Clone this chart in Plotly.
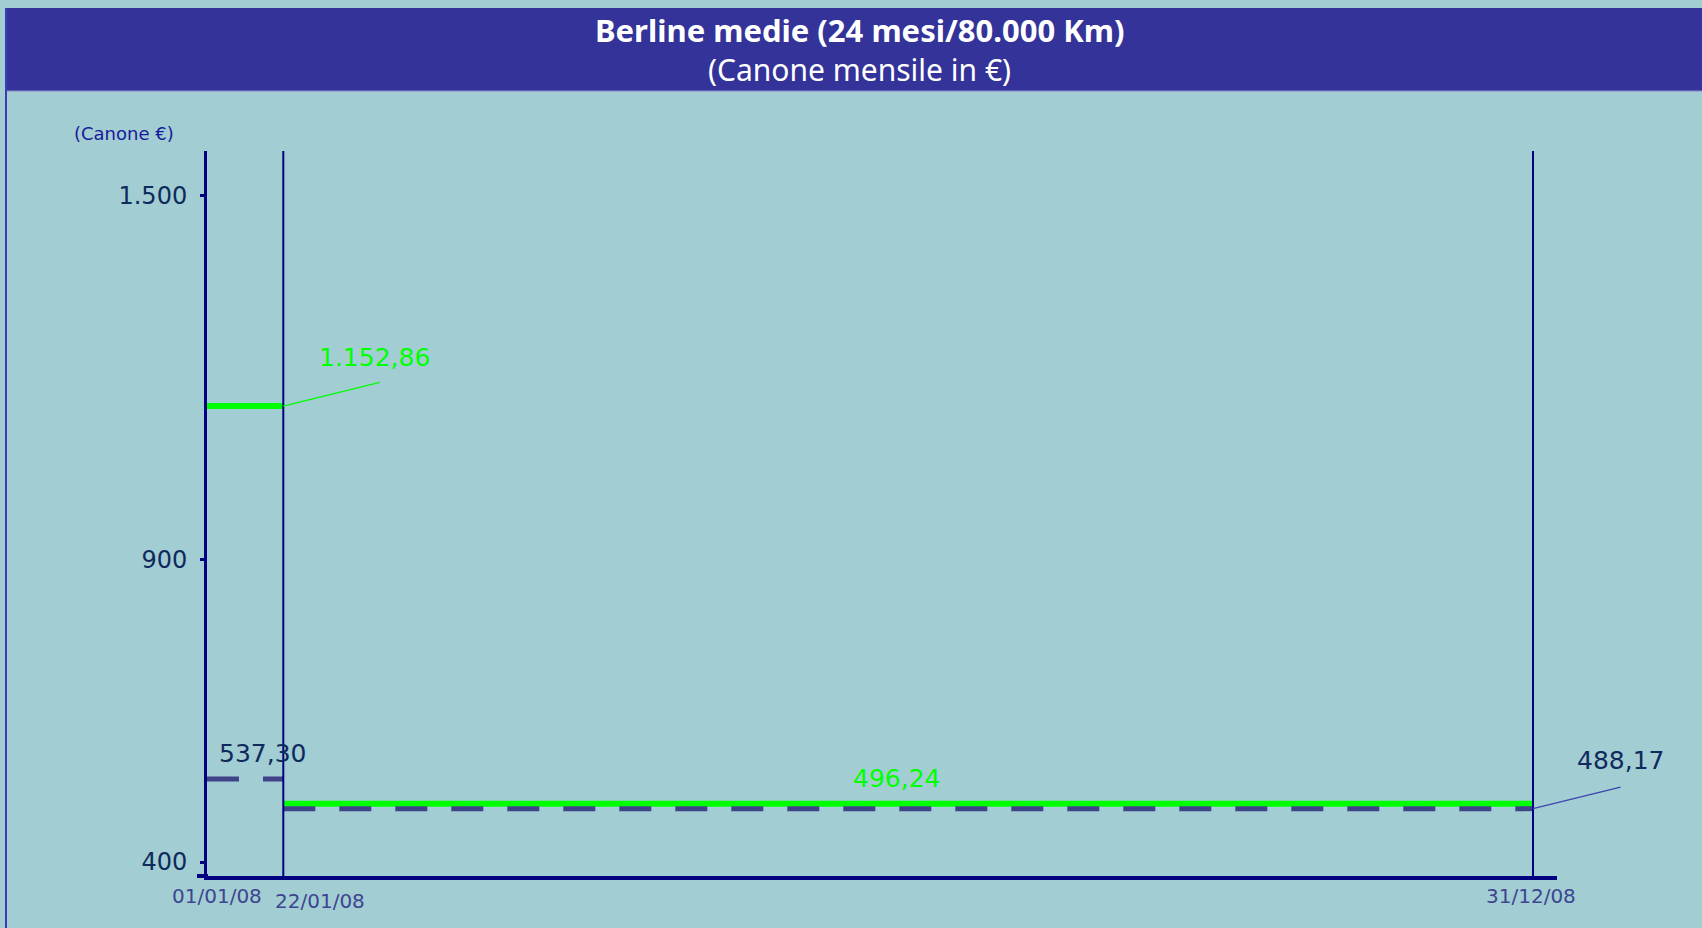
import plotly.graph_objects as go
import pandas as pd

# ---- data ----
period_dates = ["2008-01-01", "2008-01-22", "2008-12-31"]
date_labels = ["01/01/08", "22/01/08", "31/12/08"]
canone_nuovo = [1152.86, 496.24]      # green solid
canone_precedente = [537.30, 488.17]  # dashed
y_ticks = [400, 900, 1500]

W, H = 1702, 928
BG = "#A2CDD3"
NAVY = "#000080"
GREEN = "#00FF00"
DASH = "#414389"
LABEL = "#0F2A5C"
FONT = "Noto Sans"
FONT2 = "DejaVu Sans"


def it_fmt(v, dec=2):
    s = f"{v:,.{dec}f}"
    return s.replace(",", "X").replace(".", ",").replace("X", ".")


d = pd.to_datetime(period_dates)
span = d[-1] - d[0]
x_end = d[-1] + span * (24 / 1326)

fig = go.Figure()

for i in range(2):
    fig.add_trace(go.Scatter(
        x=[d[i], d[i + 1]], y=[canone_nuovo[i]] * 2, mode="lines",
        line=dict(color=GREEN, width=6), hoverinfo="skip", showlegend=False))
for i in range(2):
    fig.add_trace(go.Scatter(
        x=[d[i], d[i + 1]], y=[canone_precedente[i]] * 2, mode="lines",
        line=dict(color=DASH, width=5, dash="32px,24px"),
        hoverinfo="skip", showlegend=False))

y_axis_bottom = 1 - 876 / H
shapes = [
    dict(type="rect", xref="paper", yref="paper", x0=7 / W, x1=1,
         y0=1 - 91 / H, y1=1 - 8 / H, fillcolor="#333399", line=dict(width=0), layer="below"),
    dict(type="line", xref="paper", yref="paper", x0=7 / W, x1=1,
         y0=1 - 91 / H, y1=1 - 91 / H, line=dict(color="#8A8AD0", width=1)),
    dict(type="line", xref="paper", yref="paper", x0=6 / W, x1=6 / W,
         y0=0, y1=1 - 8 / H, line=dict(color="#3C3CB4", width=2)),
    dict(type="line", xref="paper", yref="paper", x0=197 / W, x1=208 / W,
         y0=y_axis_bottom, y1=y_axis_bottom, line=dict(color=NAVY, width=4)),
]
for dt in d[1:]:
    shapes.append(dict(type="line", xref="x", yref="y domain", x0=dt, x1=dt,
                       y0=0, y1=1, line=dict(color=NAVY, width=2)))

annotations = [
    dict(text="<b>Berline medie (24 mesi/80.000 Km)</b>", xref="paper", yref="paper",
         x=860 / W, y=1 - 30 / H, showarrow=False, xanchor="center", yanchor="middle",
         font=dict(family=FONT, size=31, color="white")),
    dict(text="(Canone mensile in €)", xref="paper", yref="paper",
         x=860 / W, y=1 - 69 / H, showarrow=False, xanchor="center", yanchor="middle",
         font=dict(family=FONT, size=30, color="white")),
    dict(text="(Canone €)", xref="paper", yref="paper",
         x=124 / W, y=1 - 134 / H, showarrow=False, xanchor="center", yanchor="middle",
         font=dict(family=FONT2, size=18, color="#1A1A9C")),
    dict(text=it_fmt(canone_nuovo[0]), x=d[1], y=canone_nuovo[0], xshift=91, yshift=49,
         showarrow=False, font=dict(family=FONT2, size=25, color=GREEN)),
    dict(text="", x=d[1], y=canone_nuovo[0], ax=98, ay=-24, showarrow=True,
         arrowhead=0, arrowwidth=1.3, arrowcolor=GREEN, standoff=0),
    dict(text=it_fmt(canone_precedente[0]), x=d[0], y=canone_precedente[0],
         xanchor="left", xshift=10, yshift=25, showarrow=False,
         font=dict(family=FONT2, size=25, color=LABEL)),
    dict(text=it_fmt(canone_nuovo[1]), x=d[1] + (d[2] - d[1]) / 2, y=canone_nuovo[1],
         xshift=-12, yshift=25, showarrow=False, font=dict(family=FONT2, size=25, color=GREEN)),
    dict(text=it_fmt(canone_precedente[1]), x=d[2], y=canone_precedente[1], xshift=87, yshift=48,
         showarrow=False, font=dict(family=FONT2, size=25, color=LABEL)),
    dict(text="", x=d[2], y=canone_precedente[1], ax=89, ay=-22, showarrow=True,
         arrowhead=0, arrowwidth=1.3, arrowcolor="#3A44B0", standoff=0),
]
x_label_style = [dict(xanchor="center", xshift=10, yshift=-6),
                 dict(xanchor="left", xshift=-10, yshift=-11),
                 dict(xanchor="center", xshift=-2, yshift=-6)]
for dt, lab, st in zip(d, date_labels, x_label_style):
    annotations.append(dict(text=lab, x=dt, xref="x", yref="paper", y=y_axis_bottom,
                            yanchor="top", showarrow=False,
                            font=dict(family=FONT2, size=20, color="#3D4590"), **st))

fig.update_layout(
    autosize=True,
    margin=dict(l=0, r=0, t=0, b=0),
    paper_bgcolor=BG, plot_bgcolor=BG,
    showlegend=False,
    shapes=shapes,
    annotations=annotations,
    xaxis=dict(
        domain=[207 / W, 1557 / W], type="date", range=[d[0], x_end],
        showgrid=False, zeroline=False, showline=True, linecolor=NAVY, linewidth=4,
        showticklabels=False, ticks="",
    ),
    yaxis=dict(
        domain=[y_axis_bottom, 1 - 151 / H], range=[377, 1574],
        showgrid=False, zeroline=False, showline=True, linecolor=NAVY, linewidth=3,
        tickvals=y_ticks, ticktext=[it_fmt(v, 0) for v in y_ticks],
        ticks="outside", ticklen=4, tickwidth=3, tickcolor=NAVY,
        tickfont=dict(family=FONT2, size=24, color=LABEL),
        ticklabelstandoff=8,
    ),
)

fig.write_html(
    "out.html",
    default_width="100vw", default_height="100vh",
    config={"displayModeBar": False, "responsive": True},
    post_script="document.body.style.margin='0';document.body.style.overflow='hidden';"
                "Plotly.Plots.resize(document.getElementById('{plot_id}'));",
)
